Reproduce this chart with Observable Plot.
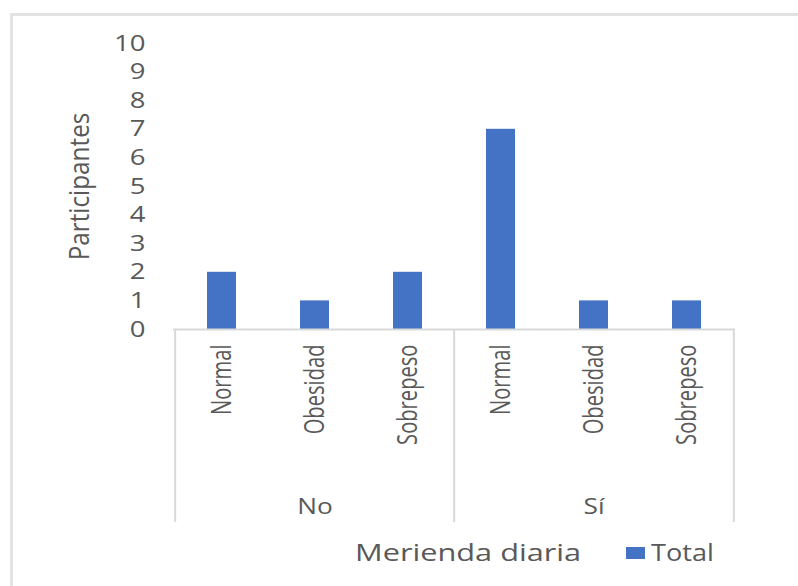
<!DOCTYPE html>
<html>
<head>
<meta charset="utf-8">
<script src="https://cdn.jsdelivr.net/npm/d3@7"></script>
<script src="https://cdn.jsdelivr.net/npm/@observablehq/plot@0.6"></script>
<style>
  html, body { margin: 0; padding: 0; background: #fff; width: 798px; height: 586px; overflow: hidden; }
  #wrap { position: relative; width: 798px; height: 586px; }
  #border { position: absolute; left: 10px; top: 13px; width: 800px; height: 600px; border: 3px solid #e3e3e3; box-sizing: border-box; }
  #chart { position: absolute; left: 0; top: 0; }
  #legend { position: absolute; left: 0; top: 530px; width: 798px; height: 40px; font-family: "Open Sans", "Noto Sans", sans-serif; color: #595959; }
  #legend .title { position: absolute; left: 355px; top: 5px; font-size: 24px; line-height: normal; white-space: nowrap; transform: scaleX(1.28); transform-origin: left center; }
  #legend .sw { position: absolute; left: 626px; top: 17px; width: 19px; height: 12px; background: #4472C4; }
  #legend .lab { position: absolute; left: 651px; top: 5px; font-size: 24px; line-height: normal; white-space: nowrap; transform: scaleX(1.13); transform-origin: left center; }
</style>
</head>
<body>
<div id="wrap">
  <div id="border"></div>
  <div id="chart"></div>
  <div id="legend"><span class="title"></span><span class="sw"></span><span class="lab"></span></div>
</div>
<script>
const groups = ["No", "No", "No", "Sí", "Sí", "Sí"];
const categories = ["Normal", "Obesidad", "Sobrepeso", "Normal", "Obesidad", "Sobrepeso"];
const values = [2, 1, 2, 7, 1, 1];
const yTicks = [0, 1, 2, 3, 4, 5, 6, 7, 8, 9, 10];
const groupLabels = ["No", "Sí"];
const yTitle = "Participantes";
const xTitle = "Merienda diaria";
const seriesName = "Total";

const data = values.map((v, i) => ({key: groups[i] + "|" + categories[i], group: groups[i], category: categories[i], value: v}));
const keys = data.map(d => d.key);
const firstKeys = groupLabels.map(g => keys.find(k => k.startsWith(g + "|")));
const midKeys = groupLabels.map(g => keys.filter(k => k.startsWith(g + "|"))[1]);
const lastKey = keys[keys.length - 1];

const W = 798, H = 530;
const mL = 173, mR = 63, mT = 43, mB = 201;
const step = (W - mL - mR) / keys.length;
const gray = "#595959";
const lineColor = "#d9d9d9";
const font = "'Open Sans', 'Noto Sans', sans-serif";

const chart = Plot.plot({
  width: W,
  height: H,
  marginLeft: mL,
  marginRight: mR,
  marginTop: mT,
  marginBottom: mB,
  style: {fontFamily: font},
  x: {domain: keys, paddingInner: 0.69, paddingOuter: 0.345, axis: null},
  y: {domain: [0, 10], axis: null},
  marks: [
    Plot.barY(data, {x: "key", y: "value", fill: "#4472C4"}),
    Plot.ruleY([0], {stroke: lineColor, strokeWidth: 2}),
    Plot.ruleX(firstKeys, {x: d => d, y1: 0, y2: 0, dx: -step / 2, insetBottom: -193, stroke: lineColor, strokeWidth: 2}),
    Plot.ruleX([lastKey], {x: d => d, y1: 0, y2: 0, dx: step / 2, insetBottom: -193, stroke: lineColor, strokeWidth: 2}),
    Plot.text(yTicks, {className: "hwide", y: d => d, text: d => String(d), frameAnchor: "left", textAnchor: "end", dx: -28, fill: gray, fontSize: 22, fontFamily: font}),
    Plot.text([yTitle], {className: "ytitle", frameAnchor: "left", rotate: -90, textAnchor: "middle", dx: -93, fill: gray, fontSize: 27, fontFamily: font}),
    Plot.text(data, {className: "catlab", x: "key", y: 0, text: "category", rotate: -90, textAnchor: "end", dy: 15, fill: gray, fontSize: 28, fontFamily: font}),
    Plot.text(midKeys.map((k, i) => ({key: k, label: groupLabels[i]})), {className: "hwide", x: "key", y: 0, text: "label", dy: 178, fill: gray, fontSize: 21, fontFamily: font})
  ]
});

function addScale(selector, sx) {
  d3.select(chart).selectAll(selector + " text").each(function() {
    const el = d3.select(this);
    let t = el.attr("transform");
    if (!t) {
      const x = +el.attr("x") || 0, y = +el.attr("y") || 0;
      t = `translate(${x},${y})`;
      el.attr("x", null).attr("y", null);
    }
    el.attr("transform", t + ` scale(${sx},1)`);
  });
}
addScale(".hwide", 1.25);
addScale(".ytitle", 0.9);
addScale(".catlab", 0.72);

document.getElementById("chart").appendChild(chart);
document.querySelector("#legend .title").textContent = xTitle;
document.querySelector("#legend .lab").textContent = seriesName;
</script>
</body>
</html>
